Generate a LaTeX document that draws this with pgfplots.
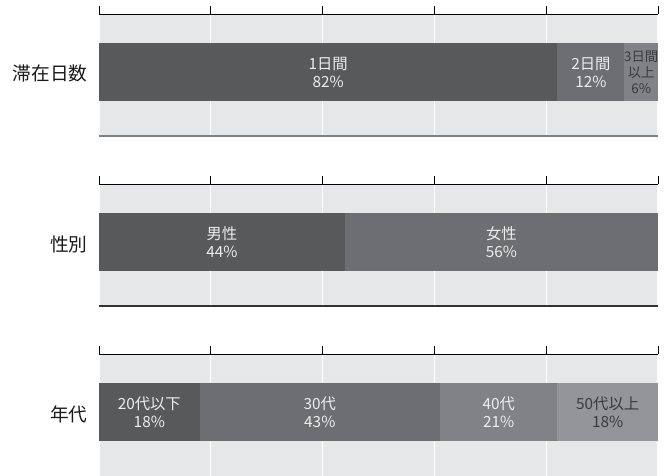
\documentclass[border=0pt]{standalone}
\usepackage{pgfplots}
\pgfplotsset{compat=1.18}
\usepackage{fontspec}
\setmainfont{Noto Sans CJK JP}
\definecolor{bgc}{HTML}{E6E7E8}
\definecolor{cA}{HTML}{58595B}
\definecolor{cB}{HTML}{6D6E71}
\definecolor{cC}{HTML}{808285}
\definecolor{cD}{HTML}{939598}
\definecolor{txtdark}{HTML}{3A3A3C}
\definecolor{txtlight}{HTML}{EDEDED}
\pgfplotsset{
  panel/.style={
    width=419.25pt, height=91.5pt, scale only axis,
    xmin=0, xmax=100, ymin=0, ymax=122,
    axis line style={draw=none},
    axis background/.style={fill=bgc},
    xtick={0,20,40,60,80,100}, xticklabels={},
    xtick pos=upper, tick align=outside,
    major tick length=6pt,
    tick style={black, line width=0.75pt},
    ytick=\empty,
    xmajorgrids, grid style={white, line width=1pt},
    xbar stacked, bar width=43.5pt,
    clip=false,
  },
  seg/.style={draw=none, fill=#1},
}
\tikzset{
  barlab/.style={font=\fontsize{11.5}{13.5}\selectfont, align=center},
  catlab/.style={font=\fontsize{14}{16}\selectfont, anchor=east, xshift=-5pt, text=black!90},
}
\begin{document}
\begin{tikzpicture}
\useasboundingbox (0,0) rectangle (498pt,-356.25pt);
% Panel 1: stay length
\begin{axis}[panel, at={(74.25pt,-10.5pt)}, anchor=north west]
\addplot[seg=cA] coordinates {(82,64)};
\addplot[seg=cB] coordinates {(12,64)};
\addplot[seg=cC] coordinates {(6,64)};
\draw[black, line width=0.75pt] (rel axis cs:0,1) -- (rel axis cs:1,1);
\draw[gray, line width=1pt] (rel axis cs:0,0) -- (rel axis cs:1,0);
\coordinate (a1) at (axis cs:41,64);
\coordinate (a2) at (axis cs:88,64);
\coordinate (a3) at (axis cs:97,64);
\coordinate (ac) at (axis cs:0,62);
\end{axis}
\node[barlab, text=txtlight] at (a1) {1日間\\82\%};
\node[barlab, text=txtlight] at (a2) {2日間\\12\%};
\node[barlab, text=txtdark, font=\fontsize{10}{12}\selectfont] at (a3) {3日間\\以上\\6\%};
\node[catlab] at (ac) {滞在日数};
% Panel 2: gender
\begin{axis}[panel, at={(74.25pt,-138pt)}, anchor=north west]
\addplot[seg=cA] coordinates {(44,64)};
\addplot[seg=cB] coordinates {(56,64)};
\draw[black, line width=0.75pt] (rel axis cs:0,1) -- (rel axis cs:1,1);
\draw[black!80, line width=1pt] (rel axis cs:0,0) -- (rel axis cs:1,0);
\coordinate (b1) at (axis cs:22,64);
\coordinate (b2) at (axis cs:72,64);
\coordinate (bc) at (axis cs:0,62);
\end{axis}
\node[barlab, text=txtlight] at (b1) {男性\\44\%};
\node[barlab, text=txtlight] at (b2) {女性\\56\%};
\node[catlab] at (bc) {性別};
% Panel 3: age
\begin{axis}[panel, at={(74.25pt,-265.5pt)}, anchor=north west]
\addplot[seg=cA] coordinates {(18,64)};
\addplot[seg=cB] coordinates {(43,64)};
\addplot[seg=cC] coordinates {(21,64)};
\addplot[seg=cD] coordinates {(18,64)};
\draw[black, line width=0.75pt] (rel axis cs:0,1) -- (rel axis cs:1,1);
\coordinate (c1) at (axis cs:9,64);
\coordinate (c2) at (axis cs:39.5,64);
\coordinate (c3) at (axis cs:71.5,64);
\coordinate (c4) at (axis cs:91,64);
\coordinate (cc) at (axis cs:0,62);
\end{axis}
\node[barlab, text=txtlight] at (c1) {20代以下\\18\%};
\node[barlab, text=txtlight] at (c2) {30代\\43\%};
\node[barlab, text=txtlight] at (c3) {40代\\21\%};
\node[barlab, text=txtdark] at (c4) {50代以上\\18\%};
\node[catlab] at (cc) {年代};
\end{tikzpicture}
\end{document}
